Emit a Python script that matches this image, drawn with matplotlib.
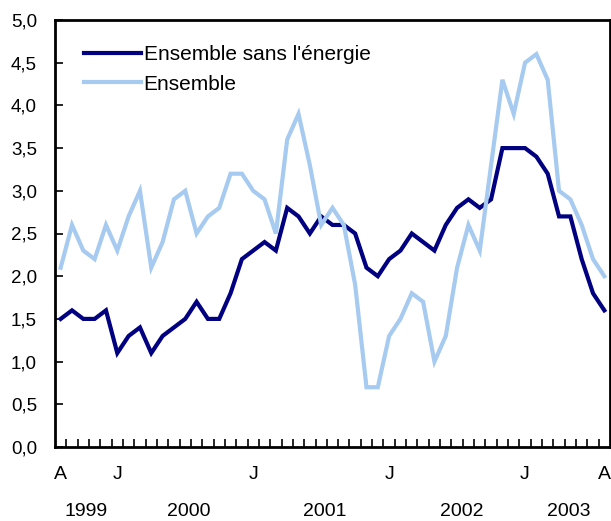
import matplotlib
matplotlib.use("Agg")
import matplotlib.pyplot as plt
import numpy as np

plt.rcParams["font.family"] = ["Liberation Sans", "DejaVu Sans"]

# monthly values, Aug 1999 - Aug 2003
sans_energie = [1.5, 1.6, 1.5, 1.5, 1.6, 1.1, 1.3, 1.4, 1.1, 1.3,
                1.4, 1.5, 1.7, 1.5, 1.5, 1.8, 2.2, 2.3, 2.4, 2.3,
                2.8, 2.7, 2.5, 2.7, 2.6, 2.6, 2.5, 2.1, 2.0, 2.2,
                2.3, 2.5, 2.4, 2.3, 2.6, 2.8, 2.9, 2.8, 2.9, 3.5,
                3.5, 3.5, 3.4, 3.2, 2.7, 2.7, 2.2, 1.8, 1.6]
ensemble = [2.1, 2.6, 2.3, 2.2, 2.6, 2.3, 2.7, 3.0, 2.1, 2.4,
            2.9, 3.0, 2.5, 2.7, 2.8, 3.2, 3.2, 3.0, 2.9, 2.5,
            3.6, 3.9, 3.3, 2.6, 2.8, 2.6, 1.9, 0.7, 0.7, 1.3,
            1.5, 1.8, 1.7, 1.0, 1.3, 2.1, 2.6, 2.3, 3.3, 4.3,
            3.9, 4.5, 4.6, 4.3, 3.0, 2.9, 2.6, 2.2, 2.0]

month_pos = [0, 5, 17, 29, 41, 48]
month_labels = ["A", "J", "J", "J", "J", "A"]
year_pos = [2.2, 11.3, 23.3, 35.4, 44.9]
year_labels = ["1999", "2000", "2001", "2002", "2003"]

x = np.arange(len(ensemble))

fig = plt.figure(figsize=(6.11, 5.21), dpi=100)
ax = fig.add_axes([55 / 611, 1 - 447 / 521, 555 / 611, 427 / 521])

ax.plot(x, sans_energie, color="#000080", lw=3, label="Ensemble sans l'énergie",
        solid_joinstyle="miter")
ax.plot(x, ensemble, color="#A6CAF0", lw=3, label="Ensemble",
        solid_joinstyle="miter")

ax.set_xlim(-0.5, len(x) - 0.5)
ax.set_ylim(0, 5)
yt = np.arange(0, 5.01, 0.5)
ax.set_yticks(yt)
ax.set_yticklabels([f"{v:.1f}".replace(".", ",") for v in yt], fontsize=13.5)

# ticks between months, labels on months
ax.set_xticks(np.arange(0.5, len(x) - 1, 1.0))
ax.set_xticklabels([])
ax.set_xticks(month_pos, minor=True)
ax.set_xticklabels(month_labels, minor=True, fontsize=14)
ax.tick_params(axis="x", which="minor", length=0, pad=14)
ax.tick_params(axis="x", which="major", direction="in", length=6, width=1.2)
ax.tick_params(axis="y", direction="in", length=6, width=1.2, pad=13)

for p, t in zip(year_pos, year_labels):
    ax.text(p, -0.152, t, transform=ax.get_xaxis_transform(),
            ha="center", va="center", fontsize=14)

for s in ax.spines.values():
    s.set_linewidth(2)

ax.legend(loc="upper left", bbox_to_anchor=(0.019, 0.985), frameon=False,
          fontsize=15, handlelength=2.7, handletextpad=0.15,
          labelspacing=0.5)

fig.savefig("out.png", dpi=100)
